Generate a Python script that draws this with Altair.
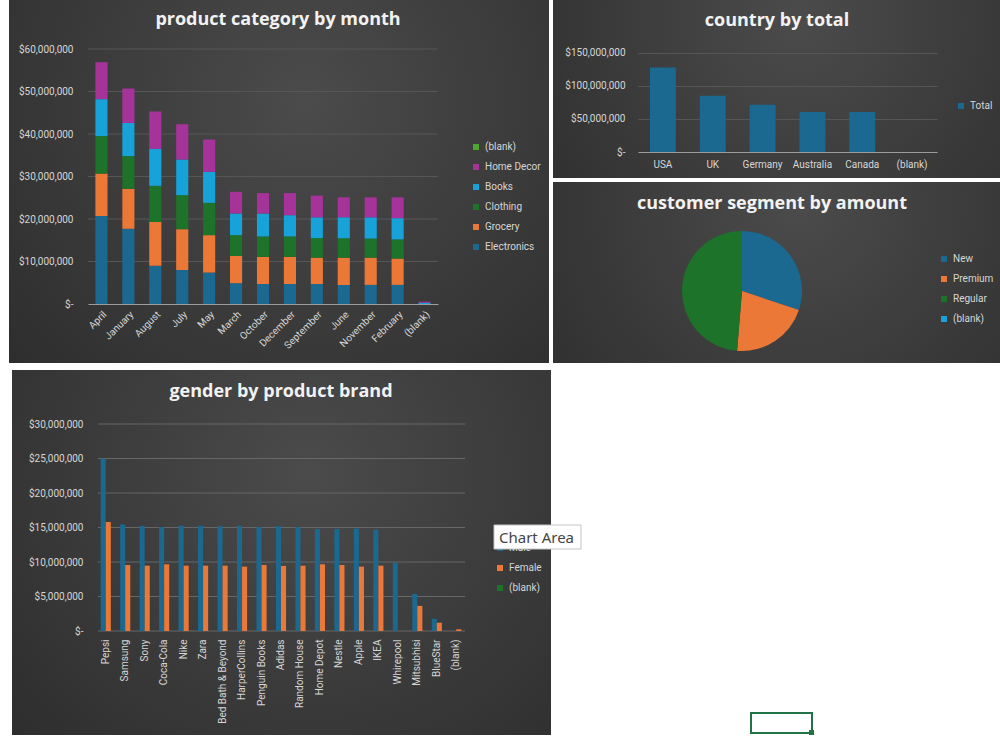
import altair as alt
import pandas as pd

# ---------------- data ----------------
months = ["April", "January", "August", "July", "May", "March", "October",
          "December", "September", "June", "November", "February", "(blank)"]
categories = ["Electronics", "Grocery", "Clothing", "Books", "Home Decor", "(blank)"]
electronics = [20.7, 17.7, 9.0, 8.0, 7.4, 4.9, 4.7, 4.7, 4.7, 4.5, 4.5, 4.5, 0.0]
grocery = [10.0, 9.4, 10.3, 9.6, 8.8, 6.4, 6.4, 6.4, 6.2, 6.4, 6.4, 6.2, 0.0]
clothing = [8.8, 7.7, 8.5, 8.0, 7.6, 4.9, 4.8, 4.8, 4.6, 4.6, 4.5, 4.5, 0.0]
books = [8.7, 7.8, 8.7, 8.4, 7.3, 5.1, 5.4, 5.0, 4.9, 4.9, 5.0, 5.0, 0.3]
home_decor = [8.7, 8.1, 8.8, 8.3, 7.6, 5.1, 4.8, 5.2, 5.1, 4.7, 4.7, 4.9, 0.25]
blank_category = [0.0] * 13

countries = ["USA", "UK", "Germany", "Australia", "Canada", "(blank)"]
country_totals = [128.1, 85.4, 71.7, 60.5, 60.5, 0.0]

segments = ["New", "Premium", "Regular", "(blank)"]
segment_amounts = [122.3, 86.1, 197.8, 0.0]

brands = ["Pepsi", "Samsung", "Sony", "Coca-Cola", "Nike", "Zara", "Bed Bath & Beyond",
          "HarperCollins", "Penguin Books", "Adidas", "Random House", "Home Depot",
          "Nestle", "Apple", "IKEA", "Whirepool", "Mitsubhisi", "BlueStar", "(blank)"]
male = [25.0, 15.45, 15.26, 15.07, 15.26, 15.26, 15.2, 15.26, 15.07, 15.17, 15.07,
        14.78, 14.78, 14.83, 14.69, 9.9, 5.36, 1.77, 0.0]
female = [15.8, 9.57, 9.47, 9.67, 9.47, 9.47, 9.47, 9.33, 9.57, 9.43, 9.47, 9.67,
          9.57, 9.33, 9.47, 0.0, 3.64, 1.2, 0.25]

ticks1 = [0, 10e6, 20e6, 30e6, 40e6, 50e6, 60e6]
ticks2 = [0, 50e6, 100e6, 150e6]
ticks4 = [0, 5e6, 10e6, 15e6, 20e6, 25e6, 30e6]

# ---------------- style ----------------
BLUE = "#1b6891"
ORANGE = "#ec7838"
GREEN = "#1d7329"
LBLUE = "#17a3d9"
PURPLE = "#a5339a"
LGREEN = "#4ea72e"
LABEL = "#d6d6d6"
GRID = "#565656"
DOMAIN = "#9c9c9c"
FONT = "Roboto"
TFONT = "Open Sans"
MONEY = "datum.value == 0 ? '$-' : '$' + format(datum.value, ',.0f')"
BG = {"gradient": "radial",
      "stops": [{"offset": 0, "color": "#4b4b4b"}, {"offset": 1, "color": "#2b2b2b"}],
      "x1": 0.55, "y1": 0.35, "r1": 0, "x2": 0.55, "y2": 0.35, "r2": 0.8}

one = pd.DataFrame({"k": [0]})


def rect(x1, x2, y1, y2, **kw):
    return alt.Chart(one).mark_rect(**kw).encode(
        x=alt.value(x1), x2=alt.value(x2), y=alt.value(y1), y2=alt.value(y2))


def text(t, x, y, **kw):
    return alt.Chart(one).mark_text(**kw).encode(
        x=alt.value(x), y=alt.value(y), text=alt.value(t))


def title(t, x, y):
    return text(t, x, y, font=TFONT, fontSize=18, fontWeight="bold", color="#f2f2f2",
                align="center", baseline="middle")


def legend(x, y):
    return alt.Legend(orient="none", legendX=x, legendY=y, title=None, symbolType="square",
                      symbolSize=36, symbolStrokeWidth=0, labelFont=FONT, labelFontSize=10,
                      labelColor=LABEL, rowPadding=10, labelOffset=4)


def money_axis(values, pad, **kw):
    return alt.Axis(values=values, labelExpr=MONEY, domain=False, ticks=False,
                    labelPadding=pad, labelFont=FONT, labelFontSize=10, labelColor=LABEL, **kw)


# ---------------- panel 1: product category by month ----------------
rows = []
for ci, (cat, vals) in enumerate(zip(categories, [electronics, grocery, clothing, books,
                                                  home_decor, blank_category])):
    for m, v in zip(months, vals):
        rows.append({"month": m, "category": cat, "value": v * 1e6, "ord": ci})
df1 = pd.DataFrame(rows)
legend1 = ["(blank)", "Home Decor", "Books", "Clothing", "Grocery", "Electronics"]
colors1 = [LGREEN, PURPLE, LBLUE, GREEN, ORANGE, BLUE]

W1, H1 = 350, 255
bgs = [
    rect(-79, 461, -49, 314, fill=BG),     # panel 1
    rect(465, 912, -49, 129, fill=BG),     # panel 2
    rect(465, 912, 133, 314, fill=BG),     # panel 3
    rect(-76, 463, 321, 686, fill=BG),     # panel 4
]
y1_scale = alt.Scale(domain=[0, 60e6], nice=False)
y1_axis = money_axis(ticks1, 15, grid=False, zindex=1)
grid1 = alt.Chart(pd.DataFrame({"v": ticks1[1:]})).mark_rule(color=GRID, strokeWidth=1).encode(
    y=alt.Y("v:Q", title=None, scale=y1_scale, axis=y1_axis),
    x=alt.value(0), x2=alt.value(W1))
bars1 = alt.Chart(df1).mark_bar().encode(
    x=alt.X("month:N", sort=months, title=None,
            scale=alt.Scale(paddingInner=0.55, paddingOuter=0.275),
            axis=alt.Axis(labelAngle=-45, ticks=False, domainColor=DOMAIN, labelPadding=5,
                          labelFont=FONT, labelFontSize=10, labelColor=LABEL, zindex=1)),
    y=alt.Y("value:Q", stack="zero", title=None, scale=y1_scale, axis=y1_axis),
    color=alt.Color("category:N", scale=alt.Scale(domain=legend1, range=colors1),
                    legend=legend(383, 93)),
    order=alt.Order("ord:Q", sort="ascending"),
)
p1 = alt.layer(*bgs, grid1, bars1, title("product category by month", 190, -29)).properties(
    width=W1, height=H1)

# ---------------- panel 2: country by total ----------------
df2 = pd.DataFrame({"country": countries, "total": [v * 1e6 for v in country_totals],
                    "series": ["Total"] * len(countries)})
bars2 = alt.Chart(df2).mark_bar().encode(
    x=alt.X("country:N", sort=countries, title=None,
            scale=alt.Scale(paddingInner=0.48, paddingOuter=0.24),
            axis=alt.Axis(labelAngle=0, ticks=False, domainColor=DOMAIN, labelPadding=7,
                          labelFont=FONT, labelFontSize=10, labelColor=LABEL)),
    y=alt.Y("total:Q", title=None, scale=alt.Scale(domain=[0, 156.06e6], nice=False),
            axis=money_axis(ticks2, 13, grid=True, gridColor=GRID)),
    color=alt.Color("series:N", scale=alt.Scale(domain=["Total"], range=[BLUE]),
                    legend=legend(318, 52)),
)
p2 = alt.layer(bars2, title("country by total", 139, -28)).properties(width=299, height=103)

# ---------------- panel 3: customer segment by amount ----------------
df3 = pd.DataFrame({"segment": segments, "amount": [v * 1e6 for v in segment_amounts],
                    "ord": list(range(len(segments)))})
pie = alt.Chart(df3).mark_arc(outerRadius=60, strokeWidth=0).encode(
    theta=alt.Theta("amount:Q", stack=True),
    color=alt.Color("segment:N", scale=alt.Scale(domain=segments,
                                                 range=[BLUE, ORANGE, GREEN, LBLUE]),
                    legend=legend(301, -170)),
    order=alt.Order("ord:Q", sort="ascending"),
    x=alt.value(104), y=alt.value(-133),
)
tip_box = rect(-144, -57, 101, 125, fill="#ffffff", stroke="#c4c4c4", strokeWidth=1)
tip_text = text("Chart Area", -139, 113.5, font="Noto Sans", fontSize=15, color="#444444",
                align="left", baseline="middle")
sel_box = rect(113, 174, 289, 309, fill="#ffffff", fillOpacity=0, stroke="#217346", strokeWidth=2)
sel_dot = rect(171, 176, 306, 311, fill="#217346")
p3 = alt.layer(pie, title("customer segment by amount", 134, -220), tip_box, tip_text,
               sel_box, sel_dot).properties(width=299, height=207)

# ---------------- panel 4: gender by product brand ----------------
rows4 = []
for b, mv, fv in zip(brands, male, female):
    rows4.append({"brand": b, "gender": "Male", "amount": mv * 1e6})
    rows4.append({"brand": b, "gender": "Female", "amount": fv * 1e6})
df4 = pd.DataFrame(rows4)
W4, H4 = 378, 207
y4_scale = alt.Scale(domain=[0, 30e6], nice=False)
y4_axis = money_axis(ticks4, 5, grid=False)
grid4 = alt.Chart(pd.DataFrame({"v": ticks4})).mark_rule(color="#676767", strokeWidth=1).encode(
    y=alt.Y("v:Q", title=None, scale=y4_scale, axis=y4_axis),
    x=alt.value(10), x2=alt.value(377))
bars4 = alt.Chart(df4).mark_bar().encode(
    x=alt.X("brand:N", sort=brands, title=None,
            scale=alt.Scale(range=[8, 378], paddingInner=0.48, paddingOuter=0.24),
            axis=alt.Axis(labelAngle=-90, ticks=False, domain=False, labelPadding=8,
                          labelFont=FONT, labelFontSize=10, labelColor=LABEL)),
    xOffset=alt.XOffset("gender:N", sort=["Male", "Female"],
                        scale=alt.Scale(paddingInner=0, paddingOuter=0)),
    y=alt.Y("amount:Q", title=None, scale=y4_scale, axis=y4_axis),
    color=alt.Color("gender:N", scale=alt.Scale(domain=["Male", "Female", "(blank)"],
                                                range=[BLUE, ORANGE, GREEN]),
                    legend=legend(407, 119)),
)
p4 = alt.layer(grid4, bars4, title("gender by product brand", 193, -32)).properties(
    width=W4, height=H4)

chart = alt.concat(p1, p2, p4, p3, columns=2, bounds="flush",
                   spacing={"row": 120, "column": 172}).resolve_scale(
    color="independent", x="independent", y="independent").properties(
    padding={"left": 9, "top": 0, "right": 0, "bottom": 0}, background="white"
).configure_view(strokeWidth=0)

chart.save("out.html", embed_options={"renderer": "svg", "actions": False})
